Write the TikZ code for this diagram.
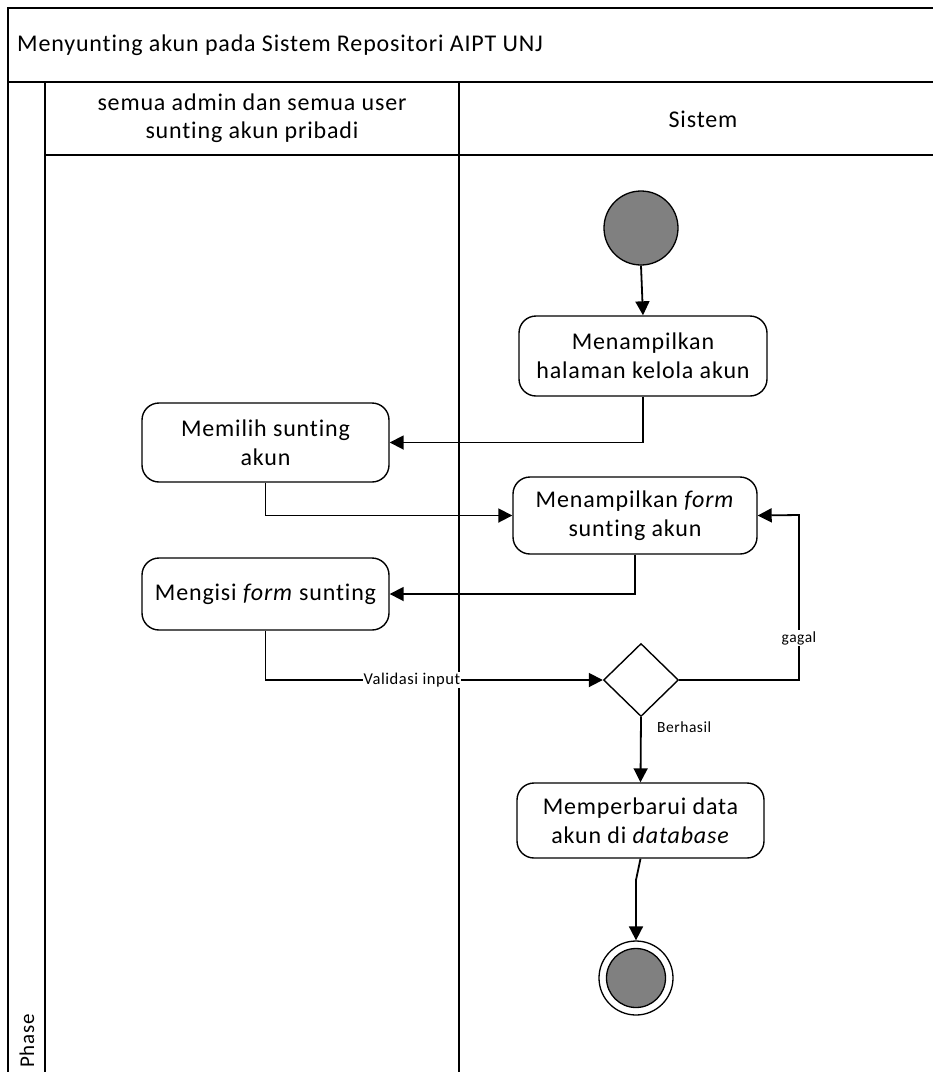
\documentclass[tikz,border=0pt]{standalone}
\usepackage{fontspec}
\setmainfont{Carlito}[Ligatures=NoCommon]
\newfontfamily\boxfont{Carlito}[LetterSpace=3.5,Ligatures=NoCommon]
\usetikzlibrary{arrows.meta,shapes.geometric}

\begin{document}
\begin{tikzpicture}[x=1pt,y=-1pt,
  frame/.style={line width=1.8pt},
  act/.style={draw,line width=1.4pt,rounded corners=17pt,align=center,
    inner sep=0pt,font=\boxfont\fontsize{24}{29}\selectfont},
  flow/.style={line width=1.8pt,-{Triangle[length=14pt,width=14pt]}},
  lbl/.style={fill=white,inner sep=1pt,font=\boxfont\fontsize{15.5}{17}\selectfont},
  startnode/.style={circle,draw,line width=1.3pt,fill=black!50,minimum size=74pt,inner sep=0pt},
  decision/.style={diamond,draw,line width=1.4pt,minimum width=75pt,minimum height=73pt,inner sep=0pt,aspect=1}
]
\useasboundingbox (0,0) rectangle (933,1072);
\clip (0,0) rectangle (933,1072);

% swimlane frame
\draw[frame] (8,1080) -- (8,8) -- (940,8);
\draw[frame] (8,82) -- (940,82);
\draw[frame] (45,82) -- (45,1080);
\draw[frame] (45,155) -- (940,155);
\draw[frame] (459,82) -- (459,1080);

\node[anchor=base west,inner sep=0pt,font=\boxfont\fontsize{24}{28}\selectfont] (title) at (17,51)
  {Menyunting akun pada Sistem Repositori AIPT UNJ};
\node[align=center,inner sep=0pt,font=\boxfont\fontsize{24}{28}\selectfont] (lane1) at (252,118)
  {semua admin dan semua user\\sunting akun pribadi};
\node[inner sep=0pt,font=\boxfont\fontsize{24}{28}\selectfont] (lane2) at (703,119) {Sistem};
\node[rotate=90,anchor=west,inner sep=0pt,font=\boxfont\fontsize{21}{24}\selectfont] (phase) at (27,1068) {Phase};

% activity nodes
\node[startnode] (start) at (641,228) {};
\node[act,minimum width=248pt,minimum height=80pt] (show) at (643,356) {Menampilkan\\halaman kelola akun};
\node[act,minimum width=247pt,minimum height=79pt] (pick) at (265.5,442.5) {Memilih sunting\\akun};
\node[act,minimum width=244pt,minimum height=77pt] (form) at (635,515.5) {Menampilkan \textit{form}\\sunting akun};
\node[act,minimum width=247pt,minimum height=72pt] (fill) at (265.5,594) {Mengisi \textit{form} sunting};
\node[decision] (dec) at (641,680) {};
\node[act,minimum width=247pt,minimum height=75pt] (save) at (640.5,820.5) {Memperbarui data\\akun di \textit{database}};
\node[circle,draw,line width=1.3pt,fill=white,minimum size=74pt,inner sep=0pt] (end) at (636,978) {};
\node[circle,draw,line width=1.3pt,fill=black!50,minimum size=59pt,inner sep=0pt] (endcore) at (end.center) {};

\coordinate (gturn) at (799,515);
\coordinate (bend) at (636,880);

% connectors
\draw[flow] (start.south) -- (show.north);
\draw[flow] (show.south) |- (pick.east);
\draw[flow] (pick.south) |- (form.west);
\draw[flow] (form.south) |- (fill.east);
\draw[flow] (fill.south) |- node[lbl,pos=0.717,font=\boxfont\fontsize{16.5}{18}\selectfont] {Validasi input} (dec.west);
\draw[flow] (dec.east) -| node[lbl,pos=0.627] {gagal} (gturn) -- (form.east);
\draw[flow] (dec.south) -- node[right=12pt,pos=0.15,font=\boxfont\fontsize{15.5}{17}\selectfont] {Berhasil} (save.north);
\draw[flow] (save.south) -- (bend) -- (end.north);
\end{tikzpicture}
\end{document}
